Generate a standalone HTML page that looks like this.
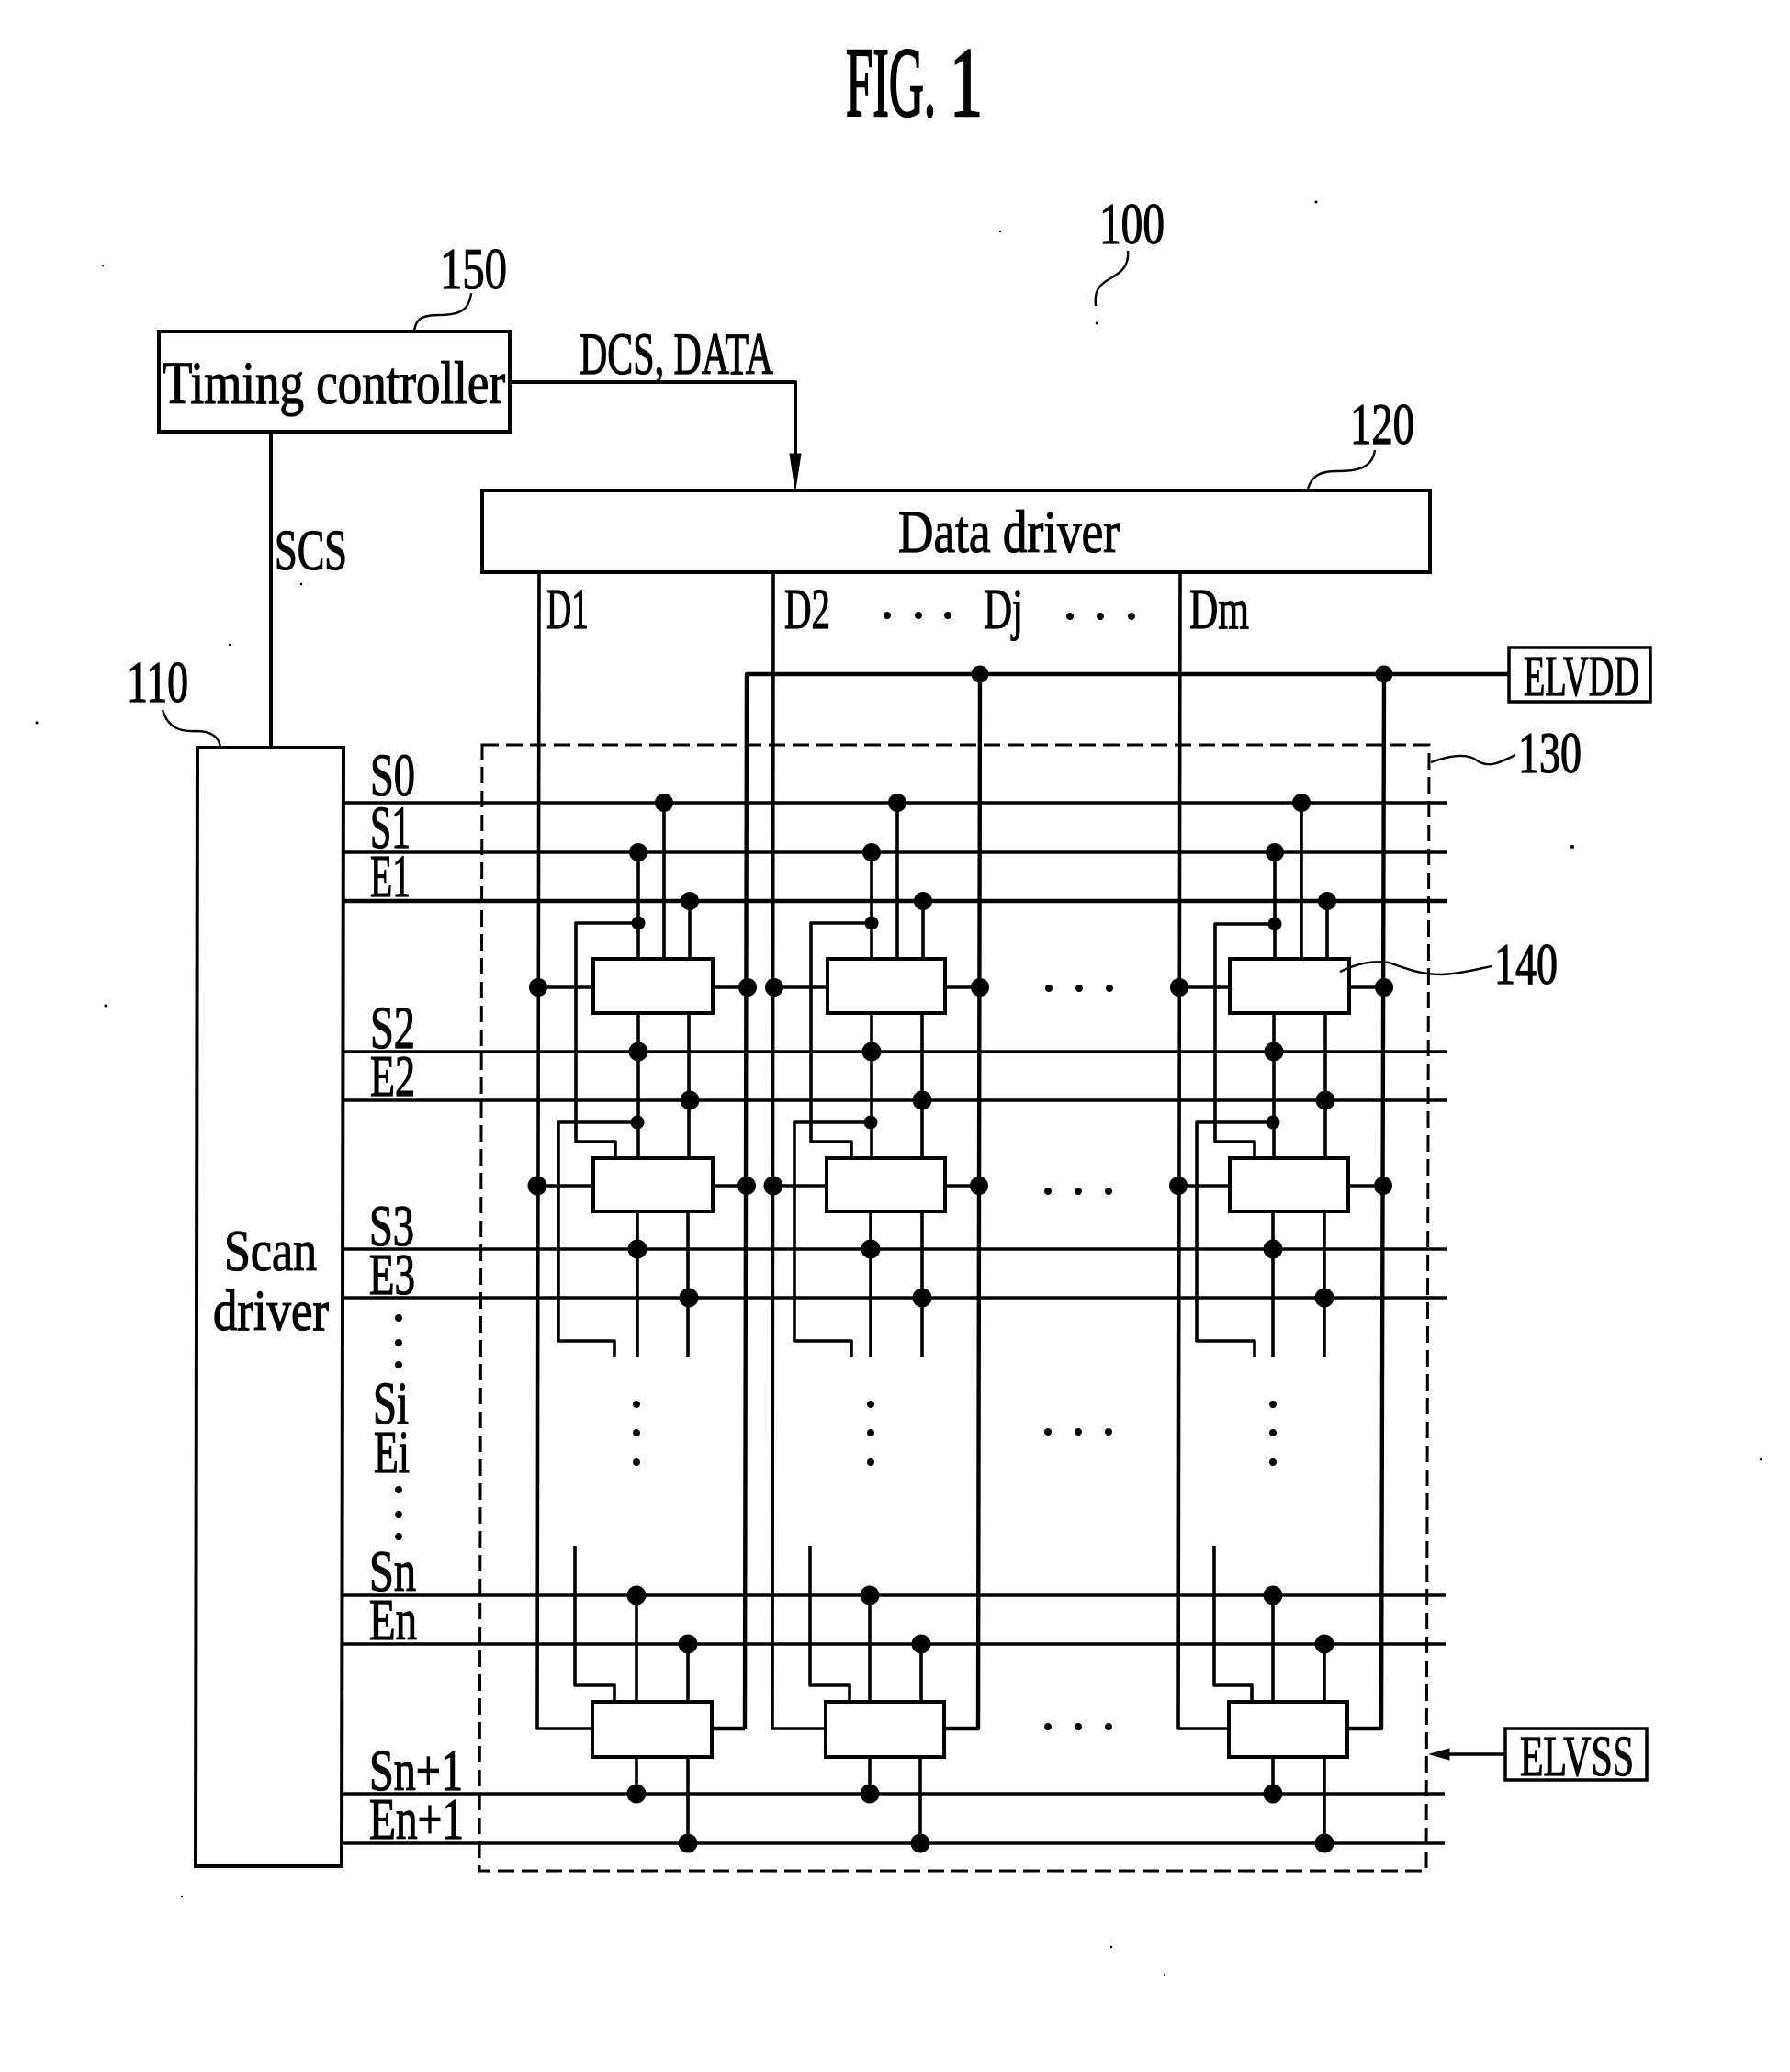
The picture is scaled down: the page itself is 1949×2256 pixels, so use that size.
<!DOCTYPE html>
<html lang="en"><head><meta charset="utf-8"><title>FIG. 1</title>
<style>
html,body{margin:0;padding:0;background:#fff}
svg{display:block}
text{font-family:"Liberation Serif",serif;fill:#000;stroke:#000;stroke-width:1.3;font-size:64px}
.w{fill:none;stroke:#000;stroke-width:3.6;stroke-linejoin:round}
.b{fill:#fff;stroke:#000;stroke-width:4}
.t{fill:none;stroke:#000;stroke-width:2.4}
</style></head><body>
<svg xmlns="http://www.w3.org/2000/svg" width="1949" height="2256" viewBox="0 0 1949 2256">
<rect width="1949" height="2256" fill="#fff"/>

<!-- dashed panel -->
<path d="M525 811H1556L1553 2037H522Z" fill="none" stroke="#000" stroke-width="3" stroke-dasharray="18 8"/>

<!-- scan and emission lines -->
<path class="w" d="M375 874H1576M375 928H1576M375 1145H1576M375 1198H1576M375 1360H1575M375 1413H1575M373 1737H1574M373 1790H1574M373 1953H1573M373 2007H1573"/>
<path class="w" style="stroke-width:4.6" d="M375 981H1576"/>

<!-- data lines and power rails -->
<path class="w" d="M587 623L585 1882H645M842 623L841 1882H899M1285 623L1283 1882H1337"/>
<path class="w" style="stroke-width:4.4" d="M811 1882H776M811 1882L813 734H1643M1067 734L1065 1882H1028M1507 734L1504 1882H1467"/>

<!-- column 1 -->
<path class="w" d="M723 874V1044M695 928V1044M751 981V1044M586 1075H646M777 1075H814M695 1005H627V1243H670V1261M695 1103V1261M750 1103V1261M585 1291H646M777 1291H813M694 1222H608V1460H669V1477M694 1319V1477M749 1319V1477M626 1683V1835H669V1853M693 1737V1853M749 1790V1853M693 1913V1953M749 1913V2007"/>
<!-- column 2 -->
<path class="w" d="M977 874V1044M949 928V1044M1005 981V1044M843 1075H902M1030 1075H1067M949 1005H883V1243H927V1261M949 1103V1261M1004 1103V1261M842 1291H901M1029 1291H1066M948 1222H865V1460H927V1477M948 1319V1477M1004 1319V1477M882 1683V1835H925V1853M947 1737V1853M1003 1790V1853M947 1913V1953M1002 1913V2007"/>
<!-- column 3 -->
<path class="w" d="M1417 874V1044M1388 928V1044M1445 981V1044M1284 1075H1340M1470 1075H1507M1388 1006H1323V1243H1366V1261M1387 1103V1261M1443 1103V1261M1283 1291H1339M1468 1291H1506M1386 1222H1303V1460H1366V1477M1386 1319V1477M1442 1319V1477M1322 1683V1835H1363V1853M1386 1737V1853M1442 1790V1853M1386 1913V1953M1442 1913V2007"/>

<!-- pixel boxes -->
<g class="b">
<rect class="b" x="646" y="1044" width="130" height="59"/>
<rect class="b" x="901" y="1044" width="128" height="59"/>
<rect class="b" x="1339" y="1044" width="130" height="59"/>
<rect class="b" x="646" y="1261" width="130" height="58"/>
<rect class="b" x="900" y="1261" width="129" height="58"/>
<rect class="b" x="1339" y="1261" width="129" height="58"/>
<rect class="b" x="645" y="1853" width="130" height="60"/>
<rect class="b" x="899" y="1853" width="129" height="60"/>
<rect class="b" x="1338" y="1853" width="129" height="60"/>
</g>

<!-- junction dots -->
<g fill="#000">
<circle cx="1067" cy="734" r="9.5"/><circle cx="1507" cy="734" r="9.5"/>
<circle cx="723" cy="874" r="10"/><circle cx="695" cy="928" r="10"/><circle cx="751" cy="981" r="10"/><circle cx="695" cy="1005" r="7.5"/>
<circle cx="977" cy="874" r="10"/><circle cx="949" cy="928" r="10"/><circle cx="1005" cy="981" r="10"/><circle cx="949" cy="1005" r="7.5"/>
<circle cx="1417" cy="874" r="10"/><circle cx="1388" cy="928" r="10"/><circle cx="1445" cy="981" r="10"/><circle cx="1388" cy="1006" r="7.5"/>
<circle cx="586" cy="1075" r="10"/><circle cx="814" cy="1075" r="10"/><circle cx="843" cy="1075" r="10"/><circle cx="1067" cy="1075" r="10"/><circle cx="1284" cy="1075" r="10"/><circle cx="1507" cy="1075" r="10"/>
<circle cx="695" cy="1145" r="10.5"/><circle cx="751" cy="1198" r="10.5"/><circle cx="694" cy="1222" r="7.5"/>
<circle cx="949" cy="1145" r="10.5"/><circle cx="1004" cy="1198" r="10.5"/><circle cx="948" cy="1222" r="7.5"/>
<circle cx="1387" cy="1145" r="10.5"/><circle cx="1443" cy="1198" r="10.5"/><circle cx="1386" cy="1222" r="7.5"/>
<circle cx="585" cy="1291" r="10.5"/><circle cx="813" cy="1291" r="10"/><circle cx="842" cy="1291" r="10.5"/><circle cx="1066" cy="1291" r="10"/><circle cx="1283" cy="1291" r="10"/><circle cx="1506" cy="1291" r="10"/>
<circle cx="694" cy="1360" r="10.5"/><circle cx="750" cy="1413" r="10.5"/>
<circle cx="948" cy="1360" r="10.5"/><circle cx="1004" cy="1413" r="10.5"/>
<circle cx="1386" cy="1360" r="10.5"/><circle cx="1442" cy="1413" r="10.5"/>
<circle cx="693" cy="1737" r="10.5"/><circle cx="749" cy="1790" r="10.5"/>
<circle cx="947" cy="1737" r="10.5"/><circle cx="1003" cy="1790" r="10.5"/>
<circle cx="1386" cy="1737" r="10.5"/><circle cx="1442" cy="1790" r="10.5"/>
<circle cx="693" cy="1953" r="10.5"/><circle cx="749" cy="2007" r="10.5"/>
<circle cx="947" cy="1953" r="10.5"/><circle cx="1002" cy="2007" r="10.5"/>
<circle cx="1386" cy="1953" r="10.5"/><circle cx="1442" cy="2007" r="10.5"/>

<!-- ellipsis dots -->
<circle cx="966" cy="670" r="4"/><circle cx="1000" cy="670" r="4"/><circle cx="1032" cy="670" r="4"/>
<circle cx="1165" cy="671" r="4"/><circle cx="1198" cy="671" r="4"/><circle cx="1232" cy="671" r="4"/>
<circle cx="1142" cy="1076" r="4"/><circle cx="1175" cy="1076" r="4"/><circle cx="1208" cy="1076" r="4"/>
<circle cx="1141" cy="1297" r="4"/><circle cx="1174" cy="1297" r="4"/><circle cx="1207" cy="1297" r="4"/>
<circle cx="1141" cy="1559" r="4"/><circle cx="1174" cy="1559" r="4"/><circle cx="1207" cy="1559" r="4"/>
<circle cx="1141" cy="1880" r="4"/><circle cx="1174" cy="1880" r="4"/><circle cx="1207" cy="1880" r="4"/>
<circle cx="693" cy="1529" r="4"/><circle cx="693" cy="1560" r="4"/><circle cx="693" cy="1592" r="4"/>
<circle cx="948" cy="1529" r="4"/><circle cx="948" cy="1560" r="4"/><circle cx="948" cy="1592" r="4"/>
<circle cx="1386" cy="1529" r="4"/><circle cx="1386" cy="1560" r="4"/><circle cx="1386" cy="1592" r="4"/>
<circle cx="434" cy="1435" r="4"/><circle cx="434" cy="1462" r="4"/><circle cx="434" cy="1486" r="4"/>
<circle cx="434" cy="1622" r="4"/><circle cx="434" cy="1649" r="4"/><circle cx="434" cy="1673" r="4"/>

<!-- scan specks -->
<circle cx="1194" cy="352" r="1.3"/><circle cx="1433" cy="220" r="1.5"/><circle cx="1089" cy="252" r="1.2"/><circle cx="1712" cy="922" r="2"/><circle cx="112" cy="289" r="1.2"/><circle cx="328" cy="636" r="1.2"/><circle cx="250" cy="702" r="1.2"/><circle cx="40" cy="787" r="1.5"/><circle cx="115" cy="1095" r="1.5"/><circle cx="1917" cy="1589" r="1.2"/><circle cx="1210" cy="2120" r="1.2"/><circle cx="198" cy="2065" r="1.2"/><circle cx="1268" cy="2150" r="1"/>
</g>

<!-- blocks -->
<rect class="b" style="fill:#fff" x="173" y="361" width="382" height="109"/>
<path class="w" style="stroke-width:4" d="M295 470V814"/>
<path class="w" style="stroke-width:4" d="M555 416H866V520"/>
<path d="M860 494H872L866 533Z" fill="#000" stroke="#000" stroke-width="1"/>
<rect class="b" style="fill:#fff" x="525" y="534" width="1032" height="89"/>
<path class="b" style="fill:#fff" d="M215 814H374L372 2032H213Z"/>
<rect class="b" style="fill:#fff;stroke-width:3.5" x="1643" y="705" width="154" height="59"/>
<rect class="b" style="fill:#fff;stroke-width:3.5" x="1639" y="1882" width="154" height="56"/>
<path class="w" d="M1639 1910H1575"/>
<path d="M1557 1910L1578 1904V1916Z" fill="#000" stroke="#000" stroke-width="1"/>

<!-- leaders -->
<path class="t" d="M513 319C511 338 500 343 478 343C458 343 453 348 451 360"/>
<path class="t" d="M177 773C183 792 195 797 213 796C230 796 238 802 240 813"/>
<path class="t" d="M1228 273C1230 296 1212 300 1203 307C1193 314 1192 322 1193 333"/>
<path class="t" d="M1497 490C1494 510 1478 513 1455 513C1435 513 1428 520 1424 532"/>
<path class="t" d="M1558 830C1580 822 1598 820 1608 828C1620 836 1630 832 1650 822"/>
<path class="t" d="M1459 1058C1480 1048 1495 1046 1512 1048C1530 1054 1545 1061 1570 1061C1590 1060 1605 1056 1624 1052"/>

<!-- labels -->
<text x="921" y="126" textLength="98" lengthAdjust="spacingAndGlyphs" style="font-size:108px;stroke-width:2.5">FIG.</text>
<text x="1034" y="126" textLength="36" lengthAdjust="spacingAndGlyphs" style="font-size:108px;stroke-width:2.5">1</text>
<text x="1197" y="265" textLength="71" lengthAdjust="spacingAndGlyphs">100</text>
<text x="479" y="314" textLength="73" lengthAdjust="spacingAndGlyphs">150</text>
<text x="1470" y="483" textLength="70" lengthAdjust="spacingAndGlyphs">120</text>
<text x="138" y="764" textLength="67" lengthAdjust="spacingAndGlyphs">110</text>
<text x="1653" y="841" textLength="69" lengthAdjust="spacingAndGlyphs">130</text>
<text x="1627" y="1071" textLength="69" lengthAdjust="spacingAndGlyphs">140</text>
<text x="177" y="439" textLength="373" lengthAdjust="spacingAndGlyphs" style="font-size:66px">Timing controller</text>
<text x="631" y="407" textLength="211" lengthAdjust="spacingAndGlyphs" style="font-size:65px">DCS, DATA</text>
<text x="299" y="620" textLength="79" lengthAdjust="spacingAndGlyphs" style="font-size:62px">SCS</text>
<text x="978" y="601" textLength="241" lengthAdjust="spacingAndGlyphs" style="font-size:66px">Data driver</text>
<text x="595" y="684" textLength="46" lengthAdjust="spacingAndGlyphs" style="font-size:62px">D1</text>
<text x="854" y="684" textLength="50" lengthAdjust="spacingAndGlyphs" style="font-size:62px">D2</text>
<text x="1071" y="684" textLength="43" lengthAdjust="spacingAndGlyphs" style="font-size:62px">Dj</text>
<text x="1295" y="684" textLength="65" lengthAdjust="spacingAndGlyphs" style="font-size:62px">Dm</text>
<text x="1659" y="757" textLength="126" lengthAdjust="spacingAndGlyphs" style="font-size:62px">ELVDD</text>
<text x="1655" y="1933" textLength="124" lengthAdjust="spacingAndGlyphs" style="font-size:62px">ELVSS</text>
<text x="244" y="1383" textLength="101" lengthAdjust="spacingAndGlyphs">Scan</text>
<text x="232" y="1448" textLength="126" lengthAdjust="spacingAndGlyphs" style="font-size:62px">driver</text>
<text x="403" y="866" textLength="49" lengthAdjust="spacingAndGlyphs" style="font-size:66px">S0</text>
<text x="403" y="923" textLength="44" lengthAdjust="spacingAndGlyphs" style="font-size:66px">S1</text>
<text x="403" y="976" textLength="44" lengthAdjust="spacingAndGlyphs" style="font-size:66px">E1</text>
<text x="403" y="1141" textLength="49" lengthAdjust="spacingAndGlyphs" style="font-size:66px">S2</text>
<text x="403" y="1193" textLength="49" lengthAdjust="spacingAndGlyphs">E2</text>
<text x="402" y="1356" textLength="49" lengthAdjust="spacingAndGlyphs">S3</text>
<text x="402" y="1409" textLength="50" lengthAdjust="spacingAndGlyphs">E3</text>
<text x="406" y="1550" textLength="39" lengthAdjust="spacingAndGlyphs" style="font-size:66px">Si</text>
<text x="407" y="1603" textLength="39" lengthAdjust="spacingAndGlyphs" style="font-size:66px">Ei</text>
<text x="402" y="1732" textLength="51" lengthAdjust="spacingAndGlyphs">Sn</text>
<text x="402" y="1785" textLength="52" lengthAdjust="spacingAndGlyphs">En</text>
<text x="402" y="1949" textLength="102" lengthAdjust="spacingAndGlyphs">Sn+1</text>
<text x="402" y="2002" textLength="103" lengthAdjust="spacingAndGlyphs">En+1</text>
</svg>
</body></html>
